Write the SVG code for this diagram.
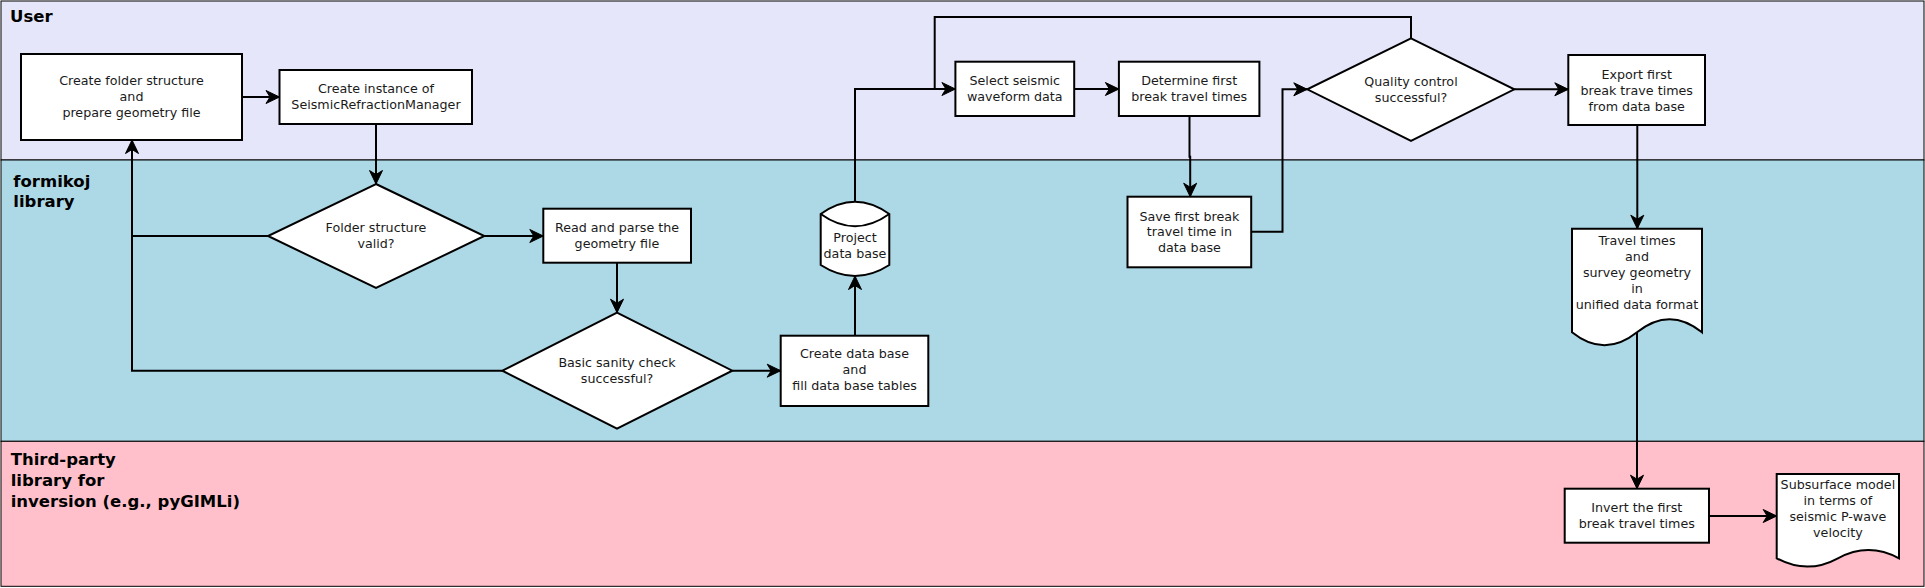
<svg xmlns="http://www.w3.org/2000/svg" width="1925" height="588" viewBox="0 0 1925 588">
<style>
.lane{stroke:#000;stroke-width:1}
.lt{font-family:"DejaVu Sans",sans-serif;font-weight:bold;font-size:16.5px;fill:#000}
.n{fill:#fff;stroke:#000;stroke-width:2}
.t{font-family:"DejaVu Sans",sans-serif;font-size:12.7px;fill:#1a1a1a;text-anchor:middle}
.c{fill:none;stroke:#000;stroke-width:2}
.a{marker-end:url(#arr)}
</style>
<defs>
<marker id="arr" viewBox="-15 -8 17 16" markerWidth="17" markerHeight="16" refX="0" refY="0" orient="auto" markerUnits="userSpaceOnUse">
<path d="M0,0 L-13.5,-6.5 L-9.5,0 L-13.5,6.5 Z" fill="#000" stroke="#000" stroke-width="1" stroke-linejoin="miter"/>
</marker>
</defs>
<g id="lanes">
<rect class="lane" x="1" y="1" width="1923" height="159" fill="#E6E6FA"/>
<rect class="lane" x="1" y="160" width="1923" height="281.3" fill="#ADD8E6"/>
<rect class="lane" x="1" y="441.3" width="1923" height="145" fill="#FFC0CB"/>
<text class="lt" x="10" y="21.7">User</text>
<text class="lt" x="13.3" y="186.5">formikoj</text>
<text class="lt" x="13.3" y="207">library</text>
<text class="lt" x="10.7" y="464.5">Third-party</text>
<text class="lt" x="10.7" y="485.5">library for</text>
<text class="lt" x="10.7" y="506.8">inversion (e.g., pyGIMLi)</text>
</g>
<g id="connectors">
<path class="c a" d="M242,97 H279.5"/>
<path class="c a" d="M376,124 V184"/>
<path class="c" d="M268,236 H132"/>
<path class="c a" d="M502.3,370.7 H132 V140"/>
<path class="c a" d="M484.3,236 H543.3"/>
<path class="c a" d="M617,262.7 V312.7"/>
<path class="c a" d="M732.3,370.7 H780.7"/>
<path class="c a" d="M855,335.7 V276"/>
<path class="c a" d="M855,201.7 V89 H955.4"/>
<path class="c" d="M1411,38.3 V17 H934.7 V89"/>
<path class="c a" d="M1074.2,89 H1118.9"/>
<path class="c a" d="M1189.5,116 V156.7 H1190.2 V196.7"/>
<path class="c a" d="M1251.2,231.7 H1282.5 V89.3 H1307.3"/>
<path class="c a" d="M1514.3,89.3 H1568.3"/>
<path class="c a" d="M1637.3,125 V228.7"/>
<path class="c a" d="M1637,332.3 V488.7"/>
<path class="c a" d="M1709,516 H1776.7"/>
</g>
<g id="n-create-folder">
<rect class="n" x="21" y="54" width="221" height="86"/>
<text class="t" x="131.5" y="85.2">Create folder structure</text>
<text class="t" x="131.5" y="101.2">and</text>
<text class="t" x="131.5" y="117.2">prepare geometry file</text>
</g>
<g id="n-create-instance">
<rect class="n" x="279.5" y="70" width="192.5" height="54"/>
<text class="t" x="376" y="93.2">Create instance of</text>
<text class="t" x="376" y="109.2">SeismicRefractionManager</text>
</g>
<g id="n-folder-valid">
<polygon class="n" points="376,184 484.3,236 376,288 268,236"/>
<text class="t" x="376" y="232.3">Folder structure</text>
<text class="t" x="376" y="248.3">valid?</text>
</g>
<g id="n-read-parse">
<rect class="n" x="543.3" y="208.7" width="147.7" height="54"/>
<text class="t" x="617" y="231.9">Read and parse the</text>
<text class="t" x="617" y="247.9">geometry file</text>
</g>
<g id="n-sanity">
<polygon class="n" points="617,312.7 732.3,370.7 617,428.7 502.3,370.7"/>
<text class="t" x="617" y="366.7">Basic sanity check</text>
<text class="t" x="617" y="382.7">successful?</text>
</g>
<g id="n-create-db">
<rect class="n" x="780.7" y="335.7" width="147.6" height="70.3"/>
<text class="t" x="854.5" y="358.2">Create data base</text>
<text class="t" x="854.5" y="374.2">and</text>
<text class="t" x="854.5" y="390.2">fill data base tables</text>
</g>
<g id="n-project-db">
<path class="n" d="M820.7,214 Q855,189.5 889.3,214 V265 Q855,287 820.7,265 Z"/>
<path class="c" d="M820.7,214 Q855,238.5 889.3,214"/>
<text class="t" x="855" y="242.2">Project</text>
<text class="t" x="855" y="257.8">data base</text>
</g>
<g id="n-select">
<rect class="n" x="955.4" y="61.7" width="118.8" height="54.3"/>
<text class="t" x="1014.8" y="85.2">Select seismic</text>
<text class="t" x="1014.8" y="101.2">waveform data</text>
</g>
<g id="n-determine">
<rect class="n" x="1118.9" y="61.7" width="140.5" height="54.3"/>
<text class="t" x="1189.2" y="85.2">Determine first</text>
<text class="t" x="1189.2" y="101.2">break travel times</text>
</g>
<g id="n-save">
<rect class="n" x="1127.5" y="196.7" width="123.7" height="70.6"/>
<text class="t" x="1189.4" y="220.5">Save first break</text>
<text class="t" x="1189.4" y="236.2">travel time in</text>
<text class="t" x="1189.4" y="251.8">data base</text>
</g>
<g id="n-quality">
<polygon class="n" points="1411,38.3 1514.3,89.3 1411,141 1307.3,89.3"/>
<text class="t" x="1411" y="86">Quality control</text>
<text class="t" x="1411" y="102">successful?</text>
</g>
<g id="n-export">
<rect class="n" x="1568.3" y="55" width="136.7" height="70"/>
<text class="t" x="1636.7" y="78.5">Export first</text>
<text class="t" x="1636.7" y="94.5">break trave times</text>
<text class="t" x="1636.7" y="110.5">from data base</text>
</g>
<g id="n-travel-times">
<path class="n" d="M1572,228.7 H1702 V332.3 Q1669.5,306.2 1637,332.3 Q1604.5,358.3 1572,332.3 Z"/>
<text class="t" x="1637" y="244.5">Travel times</text>
<text class="t" x="1637" y="260.5">and</text>
<text class="t" x="1637" y="276.5">survey geometry</text>
<text class="t" x="1637" y="292.5">in</text>
<text class="t" x="1637" y="308.5">unified data format</text>
</g>
<g id="n-invert">
<rect class="n" x="1564.7" y="488.7" width="144.3" height="54"/>
<text class="t" x="1636.8" y="512">Invert the first</text>
<text class="t" x="1636.8" y="528">break travel times</text>
</g>
<g id="n-subsurface">
<path class="n" d="M1776.7,474 H1899 V558.3 Q1868.4,541.7 1837.9,558.3 Q1807.3,574.9 1776.7,558.3 Z"/>
<text class="t" x="1837.9" y="488.8">Subsurface model</text>
<text class="t" x="1837.9" y="504.8">in terms of</text>
<text class="t" x="1837.9" y="520.8">seismic P-wave</text>
<text class="t" x="1837.9" y="536.8">velocity</text>
</g>
</svg>
